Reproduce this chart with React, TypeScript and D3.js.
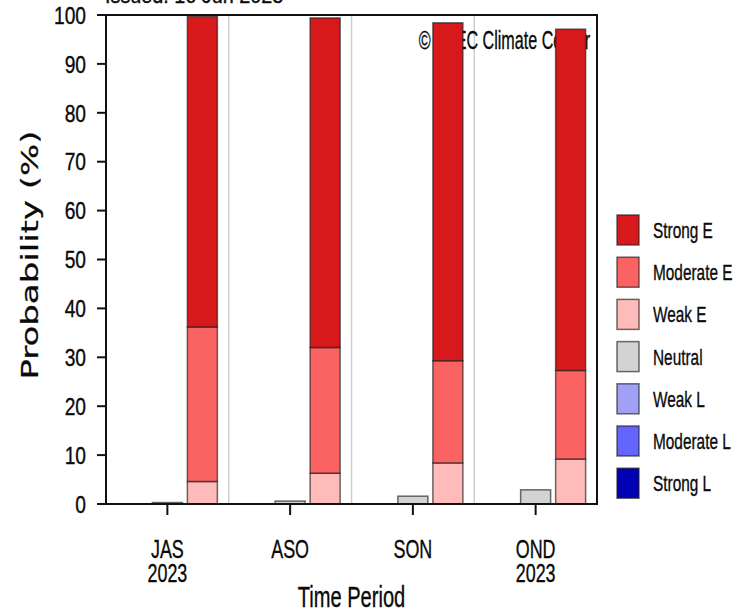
import React from 'react';
import * as d3 from 'd3';

const periods = ['JAS', 'ASO', 'SON', 'OND'];
const periodYears = ['2023', '', '', '2023'];
const legendLabels = ['Strong E', 'Moderate E', 'Weak E', 'Neutral', 'Weak L', 'Moderate L', 'Strong L'];
const legendColors = ['#d7191c', '#fb6262', '#ffbaba', '#d3d3d3', '#a0a0f5', '#6464ff', '#0000b4'];
const strongE = [63.5, 67.4, 69.1, 69.8];
const moderateE = [31.6, 25.7, 20.9, 18.1];
const weakE = [4.6, 6.3, 8.4, 9.2];
const neutral = [0.3, 0.6, 1.6, 2.9];
const weakL = [0, 0, 0, 0];
const moderateL = [0, 0, 0, 0];
const strongL = [0, 0, 0, 0];
const yTicks = [0, 10, 20, 30, 40, 50, 60, 70, 80, 90, 100];
const issuedText = 'Issued: 16 Jun 2023';
const creditText = '© APEC Climate Center';

const W = 745, H = 614;
const left = 106, right = 597, top = 15, bottom = 504;
const FONT = '"Liberation Sans", Arial, Helvetica, sans-serif';
const INK = '#0a0a0a';

export default function App() {
  const x = d3.scaleBand<string>().domain(periods).range([left, right]).padding(0);
  const slot = d3.scalePoint<string>().domain(['L', 'N', 'E']).range([-35, 35]);
  const y = d3.scaleLinear().domain([0, 100]).range([bottom, top]);
  const barW = 30;

  const colorOf = (label: string) => legendColors[legendLabels.indexOf(label)];

  const bars: JSX.Element[] = [];
  periods.forEach((p, i) => {
    const cx = (x(p) as number) + x.bandwidth() / 2;
    const stacks: [string, [string, number][]][] = [
      ['L', [['Weak L', weakL[i]], ['Moderate L', moderateL[i]], ['Strong L', strongL[i]]]],
      ['N', [['Neutral', neutral[i]]]],
      ['E', [['Weak E', weakE[i]], ['Moderate E', moderateE[i]], ['Strong E', strongE[i]]]],
    ];
    stacks.forEach(([key, segs]) => {
      let base = 0;
      const bx = cx + (slot(key) as number) - barW / 2;
      segs.forEach(([lab, v]) => {
        if (v > 0) {
          bars.push(
            <rect key={`${p}-${lab}`} x={bx} width={barW} y={y(base + v)} height={y(base) - y(base + v)}
              fill={colorOf(lab)} stroke="rgba(30,30,30,0.65)" strokeWidth={1.5} />
          );
        }
        base += v;
      });
    });
  });

  const separators = periods.slice(1).map((p) => (
    <line key={`sep-${p}`} x1={x(p)} x2={x(p)} y1={top} y2={bottom} stroke="#cfcfcf" strokeWidth={1.5} />
  ));

  const txt = { fill: INK, stroke: INK, strokeWidth: 0.35 };

  return (
    <svg width={W} height={H} style={{ position: 'absolute', left: 0, top: 0, background: '#fff' }} fontFamily={FONT}>
      <rect x={0} y={0} width={W} height={H} fill="#fff" />
      <text transform={`translate(105,3) scale(0.9,1)`} fontSize={22} {...txt}>{issuedText}</text>
      {separators}
      <text transform={`translate(590,49) scale(0.645,1)`} textAnchor="end" fontSize={25} {...txt}>{creditText}</text>
      {bars}
      <rect x={left} y={top} width={right - left} height={bottom - top} fill="none" stroke="#111" strokeWidth={2} />
      {yTicks.map((t) => (
        <g key={`yt-${t}`}>
          <line x1={left - 9} x2={left} y1={y(t)} y2={y(t)} stroke="#111" strokeWidth={2} />
          <text transform={`translate(86,${y(t) + 8.7}) scale(0.8,1)`} textAnchor="end" fontSize={24} {...txt}>{t}</text>
        </g>
      ))}
      {periods.map((p, i) => {
        const cx = (x(p) as number) + x.bandwidth() / 2;
        return (
          <g key={`xt-${p}`}>
            <line x1={cx} x2={cx} y1={bottom} y2={bottom + 11} stroke="#111" strokeWidth={2} />
            <text transform={`translate(${cx},558) scale(0.69,1)`} textAnchor="middle" fontSize={26} {...txt}>{p}</text>
            {periodYears[i] && (
              <text transform={`translate(${cx},582) scale(0.69,1)`} textAnchor="middle" fontSize={26} {...txt}>{periodYears[i]}</text>
            )}
          </g>
        );
      })}
      <text transform={`translate(${(left + right) / 2},607) scale(0.67,1)`} textAnchor="middle" fontSize={30} {...txt}>Time Period</text>
      <text transform={`translate(38,255) scale(0.7,1) rotate(-90)`} textAnchor="middle" fontSize={34} {...txt}
        fontFamily='"DejaVu Sans", sans-serif'>Probability (%)</text>
      {legendLabels.map((lab, i) => {
        const cy = 230 + i * 42.2;
        return (
          <g key={`lg-${lab}`}>
            <rect x={617} y={cy - 15} width={22} height={30} fill={legendColors[i]} stroke="rgba(30,30,30,0.65)" strokeWidth={1.5} />
            <text transform={`translate(653,${cy + 8}) scale(0.7,1)`} fontSize={22} {...txt}>{lab}</text>
          </g>
        );
      })}
    </svg>
  );
}
